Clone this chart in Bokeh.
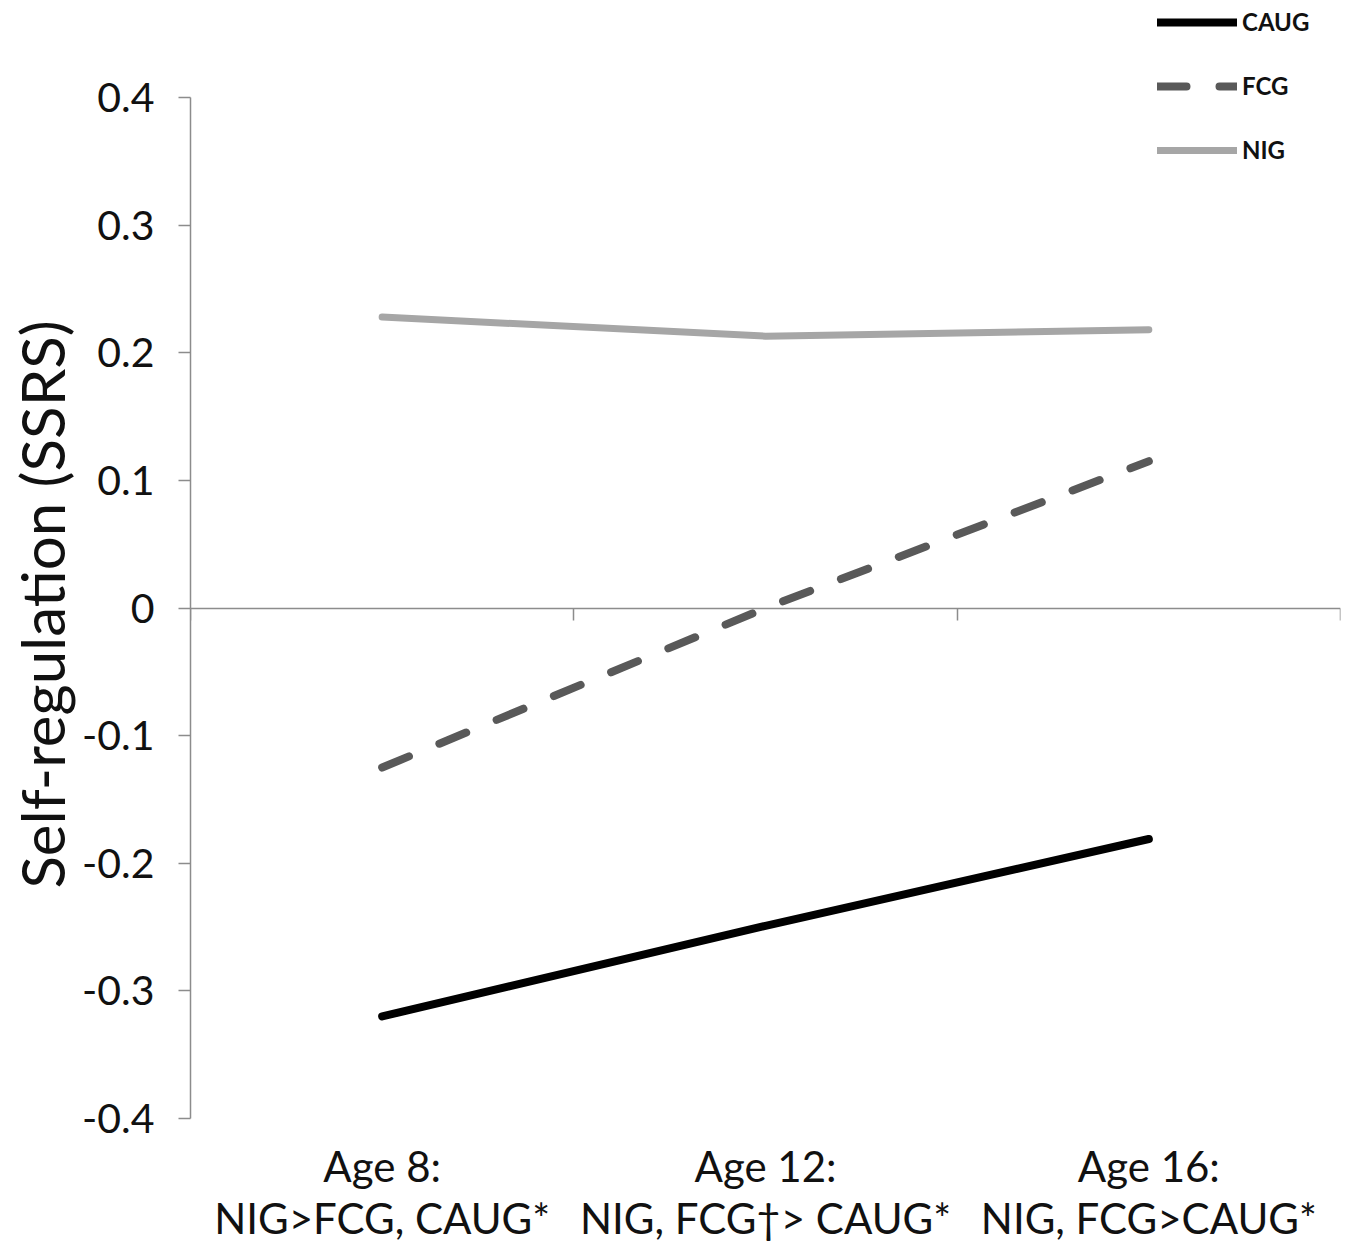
from bokeh.plotting import figure
from bokeh.models import Range1d, LinearAxis, FixedTicker, Legend, LegendItem, Title, CustomLabelingPolicy
from bokeh.embed import file_html
from bokeh.resources import INLINE

# ---- data ----
categories = ["Age 8", "Age 12", "Age 16"]
cat_labels = ["Age 8:\nNIG>FCG, CAUG*", "Age 12:\nNIG, FCG\u2020> CAUG*", "Age 16:\nNIG, FCG>CAUG*"]
caug = [-0.32, -0.249, -0.181]
fcg = [-0.125, 0.0, 0.115]
nig = [0.228, 0.213, 0.218]
y_ticks = [-0.4, -0.3, -0.2, -0.1, 0, 0.1, 0.2, 0.3, 0.4]
y_tick_labels = ["-0.4", "-0.3", "-0.2", "-0.1", "0", "0.1", "0.2", "0.3", "0.4"]
y_title = "Self-regulation (SSRS)"

xs = [i + 0.5 for i in range(len(categories))]
bounds = [i for i in range(len(categories) + 1)]

FONT = "Lato"
AXIS_COLOR = "#8c8c8c"

# frame extends above the value axis so the legend (top right) is not clipped
AXIS_PX = 1021      # pixel height of the -0.4..0.4 span
TOP_PX = 97         # extra frame pixels above 0.4
y_lo, y_hi = y_ticks[0], y_ticks[-1]
y_top = y_hi + (y_hi - y_lo) * TOP_PX / AXIS_PX

p = figure(frame_width=1150, frame_height=AXIS_PX + TOP_PX,
           x_range=Range1d(0, len(categories)), y_range=Range1d(y_lo, y_top),
           x_axis_type=None, output_backend="svg", toolbar_location=None,
           min_border_left=190, min_border_top=0, min_border_right=5, min_border_bottom=118)
p.outline_line_color = None
p.xgrid.visible = False
p.ygrid.visible = False

# y axis
ya = p.yaxis[0]
ya.ticker = FixedTicker(ticks=y_ticks)
ya.bounds = (y_lo, y_hi)
ya.major_label_overrides = {t: l for t, l in zip(y_ticks, y_tick_labels)}
ya.minor_tick_line_color = None
ya.major_tick_out = 12
ya.major_tick_in = 0
ya.axis_line_color = AXIS_COLOR
ya.axis_line_width = 1.5
ya.major_tick_line_color = AXIS_COLOR
ya.major_tick_line_width = 1.5
ya.major_label_text_font = FONT
ya.major_label_text_font_size = "41px"
ya.major_label_text_color = "#111111"
ya.major_label_standoff = 24

# y title, centred on the value span (not on the taller frame)
yt = Title(text=y_title, align="left", offset=(AXIS_PX + TOP_PX) - 890 + 2,
           text_font=FONT, text_font_size="60px", text_font_style="normal",
           text_color="#111111", standoff=4)
p.add_layout(yt, "left")

# zero-line axis with category boundary ticks (no labels)
za = LinearAxis(fixed_location=0, ticker=FixedTicker(ticks=bounds))
za.axis_line_color = AXIS_COLOR
za.axis_line_width = 1.5
za.major_tick_line_color = AXIS_COLOR
za.major_tick_line_width = 1.5
za.major_tick_in = 12
za.major_tick_out = 0
za.minor_tick_line_color = None
za.major_label_text_font_size = "0px"
za.major_label_standoff = 0
za.major_label_policy = CustomLabelingPolicy(
    code="for (const i of Array.from(indices)) { indices.unset(i) }; return indices")
p.add_layout(za, "above")

# category labels axis
ca = LinearAxis(ticker=FixedTicker(ticks=xs))
ca.major_label_overrides = {x: l for x, l in zip(xs, cat_labels)}
ca.axis_line_color = None
ca.major_tick_line_color = None
ca.minor_tick_line_color = None
ca.major_label_text_font = FONT
ca.major_label_text_font_size = "42px"
ca.major_label_text_line_height = 1.05
ca.major_label_text_color = "#111111"
ca.major_label_standoff = 16
p.add_layout(ca, "below")

# lines
r_caug = p.line(xs, caug, line_color="#000000", line_width=8, line_cap="round")
r_fcg = p.line(xs, fcg, line_color="#595959", line_width=8, line_cap="round", line_dash="29 33")
r_nig = p.line(xs, nig, line_color="#a6a6a6", line_width=7, line_cap="round")

legend = Legend(items=[LegendItem(label="CAUG", renderers=[r_caug]),
                       LegendItem(label="FCG", renderers=[r_fcg]),
                       LegendItem(label="NIG", renderers=[r_nig])],
                location=(967, 954), orientation="vertical",
                glyph_width=80, glyph_height=20, label_height=20, spacing=35,
                label_standoff=5, padding=0, margin=0,
                label_text_font=FONT, label_text_font_size="24px",
                label_text_font_style="bold", label_text_color="#111111",
                border_line_alpha=0, background_fill_alpha=0)
p.add_layout(legend, "center")

open("out.html", "w").write(file_html(p, INLINE))
